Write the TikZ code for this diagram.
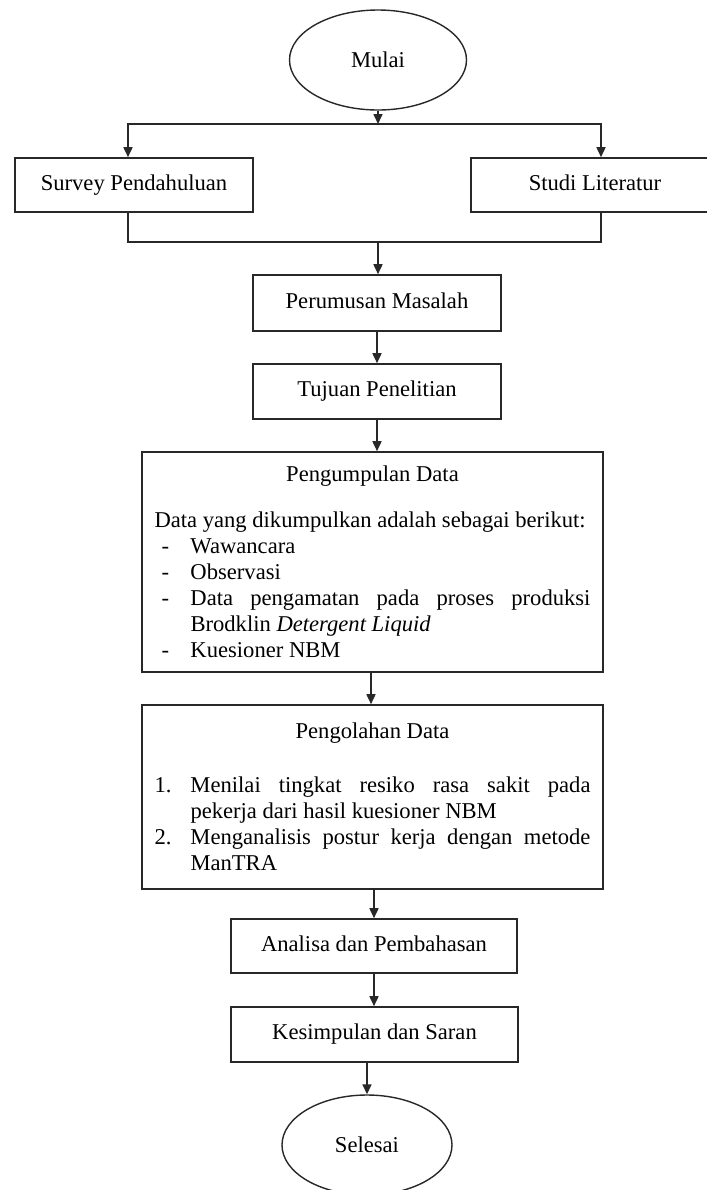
\documentclass[tikz,border=0pt]{standalone}
\usepackage{fontspec}
\setmainfont{Liberation Serif}
\usetikzlibrary{shapes.geometric,arrows.meta,calc}
\definecolor{garisgelap}{RGB}{40,40,40}
\newcommand{\butir}[1]{\hangindent=18pt\hangafter=1\noindent\makebox[18pt][l]{#1}}
\tikzset{
    % Gaya node
    prosesbox/.style={
        rectangle, draw=garisgelap, line width=0.8pt, fill=white,
        font=\fontsize{11.3}{13}\selectfont, align=center, inner sep=0pt,
        text height=7.5pt, text depth=2.5pt
    },
    terminalbox/.style={
        ellipse, draw=garisgelap, line width=0.7pt, fill=white,
        font=\fontsize{11.3}{13}\selectfont, inner sep=0pt
    },
    databox/.style={
        rectangle, draw=garisgelap, line width=0.8pt, fill=white,
        text width=218pt, inner xsep=6.25pt, inner ysep=0pt, align=justify,
        font=\fontsize{11.3}{13}\selectfont,
        execute at begin node={\setlength{\parindent}{0pt}}
    },
    arrow/.style={
        -{Triangle[length=5pt,width=4.5pt]}, line width=0.8pt, color=garisgelap
    },
    garis/.style={
        line width=0.8pt, color=garisgelap
    }
}
\begin{document}
\begin{tikzpicture}[x=0.5pt, y=-0.5pt]
\useasboundingbox (0,0) rectangle (707,1190);

% Awal dan tahap pendahuluan
\node[terminalbox, minimum width=88.5pt, minimum height=50pt] (mulai) at (378,60) {Mulai};
\node[prosesbox, minimum width=119pt, minimum height=27pt] (survey_awal) at (134,185) {Survey Pendahuluan};
\node[prosesbox, minimum width=124pt, minimum height=27pt] (studi_lit) at (595,185) {Studi Literatur};

% Tahap identifikasi
\node[prosesbox, minimum width=124pt, minimum height=28pt] (rumusan) at (377,303) {Perumusan Masalah};
\node[prosesbox, minimum width=124pt, minimum height=27.5pt] (tujuan) at (377,391.5) {Tujuan Penelitian};

% Pengumpulan dan pengolahan data
\node[databox, minimum height=110pt] (kumpul_data) at (372.5,562) {
    {\centering Pengumpulan Data\par}
    \vspace{10pt}
    Data yang dikumpulkan adalah sebagai berikut:\par
    \butir{\hspace{3.5pt}-}Wawancara\par
    \butir{\hspace{3.5pt}-}Observasi\par
    \butir{\hspace{3.5pt}-}Data pengamatan pada proses produksi\linebreak Brodklin \textit{Detergent Liquid}\par
    \butir{\hspace{3.5pt}-}Kuesioner NBM\par};
\node[databox, minimum height=92pt] (olah_data) at (372.5,797) {
    {\centering Pengolahan Data\par}
    \vspace{14pt}
    \butir{1.}Menilai tingkat resiko rasa sakit pada\linebreak pekerja dari hasil kuesioner NBM\par
    \butir{2.}Menganalisis postur kerja dengan metode\linebreak ManTRA\par};

% Tahap akhir
\node[prosesbox, minimum width=143pt, minimum height=27pt] (analisa) at (374,946) {Analisa dan Pembahasan};
\node[prosesbox, minimum width=143.5pt, minimum height=27.5pt] (kesimpulan) at (374.5,1034.5) {Kesimpulan dan Saran};
\node[terminalbox, minimum width=85pt, minimum height=50pt] (selesai) at (367,1145) {Selesai};

% Percabangan
\coordinate (cabang_atas) at (378,124);
\coordinate (cabang_bawah) at (378,242);
\draw[arrow] (mulai.south) -- (cabang_atas);
\draw[arrow] (cabang_atas) -| ($(survey_awal.north)+(-6,0)$);
\draw[arrow] (cabang_atas) -| ($(studi_lit.north)+(6,0)$);
\draw[garis] ($(survey_awal.south)+(-6,0)$) |- (cabang_bawah) -| ($(studi_lit.south)+(6,0)$);
\draw[arrow] (cabang_bawah) -- (cabang_bawah |- rumusan.north);

% Alur utama
\draw[arrow] (rumusan.south) -- (rumusan.south |- tujuan.north);
\draw[arrow] (tujuan.south) -- (tujuan.south |- kumpul_data.north);
\draw[arrow] ($(kumpul_data.south)+(-1.5,0)$) -- ($(kumpul_data.south |- olah_data.north)+(-1.5,0)$);
\draw[arrow] (olah_data.south -| analisa.north) -- (analisa.north);
\draw[arrow] (analisa.south) -- (analisa.south |- kesimpulan.north);
\draw[arrow] (kesimpulan.south -| selesai.north) -- (selesai.north);

\end{tikzpicture}
\end{document}
